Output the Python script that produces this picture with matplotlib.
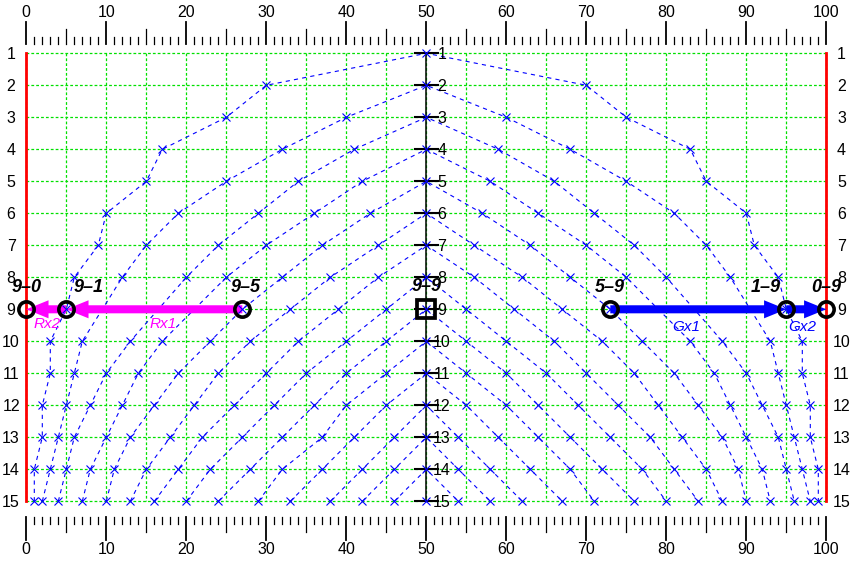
import matplotlib
matplotlib.use("Agg")
import matplotlib.pyplot as plt
from matplotlib.patches import FancyArrowPatch, ArrowStyle

plt.rcParams['font.family'] = ['Liberation Sans', 'DejaVu Sans']
plt.rcParams['lines.scale_dashes'] = False

rows = list(range(1, 16))
x_ticks = list(range(0, 101, 10))

# x of every curve on the left side, rows apex+1 .. 15 (None = under the arrow)
left_x = [
    [30, 25, 17, 15, 10, 9, 6, 5, 3, 3, 2, 2, 1, 1],
    [40, 32, 25, 19, 15, 12, None, 7, 6, 5, 4, 3, 2],
    [41, 34, 29, 24, 20, None, 13, 10, 8, 6, 5, 4],
    [42, 36, 30, 25, None, 17, 14, 12, 10, 8, 7],
    [43, 37, 32, 27, 23, 19, 16, 13, 11, 10],
    [44, 38, 33, 28, 24, 21, 18, 15, 13],
    [44, 39, 34, 30, 26, 22, 19, 16],
    [45, 40, 35, 31, 27, 23, 20],
    [45, 40, 36, 32, 28, 24],
    [45, 40, 37, 32, 29],
    [45, 41, 37, 33],
    [46, 42, 38],
    [46, 42],
    [46],
]
# same curves on the right side
right_x = [
    [70, 75, 83, 85, 90, 91, 94, 95, 97, 97, 98, 98, 99, 99],
    [60, 68, 75, 81, 85, 88, None, 93, 94, 95, 96, 97, 98],
    [59, 66, 71, 76, 80, None, 87, 90, 92, 94, 95, 96],
    [58, 64, 70, 75, None, 83, 86, 88, 90, 92, 93],
    [57, 63, 68, 73, 77, 81, 84, 87, 89, 90],
    [56, 62, 67, 72, 76, 79, 82, 85, 87],
    [56, 61, 66, 70, 74, 78, 81, 84],
    [55, 60, 65, 69, 73, 77, 80],
    [55, 60, 64, 68, 72, 76],
    [55, 60, 64, 68, 71],
    [55, 59, 63, 67],
    [54, 58, 62],
    [54, 58],
    [54],
]

score_x = [0, 5, 27, 73, 95, 100]
score_labels = ['9\u20130', '9\u20131', '9\u20135', '5\u20139', '1\u20139', '0\u20139']
score_row = 9
tie_label = '9\u20139'

arrows_r = [(27, 5, 'Rx1'), (5, 0, 'Rx2')]
arrows_g = [(73, 95, 'Gx1'), (95, 100, 'Gx2')]

fig = plt.figure(figsize=(8.53, 5.63), dpi=100)
ax = fig.add_axes([0, 0, 1, 1])
ax.set_xlim(-26.3 / 8.0, (853 - 26.3) / 8.0)
ax.set_ylim(1 + (563 - 53.3) / 32.0, 1 - 53.3 / 32.0)
ax.axis('off')

green = '#00e000'
# grid
for gx in range(0, 101, 5):
    ax.plot([gx, gx], [1, 15], color=green, lw=0.9, ls=(0, (2, 1.5)), zorder=1)
for r in rows:
    ax.plot([0, 100], [r, r], color=green, lw=0.9, ls=(0, (2, 1.5)), zorder=1)

# red borders
ax.plot([0, 0], [1, 15], color='red', lw=2, zorder=2)
ax.plot([100, 100], [1, 15], color='red', lw=2, zorder=2)

# curves
for i in range(len(left_x)):
    apex = i + 1
    lrows = list(range(apex + 1, 16))
    xs, ys = [], []
    for x, r in reversed(list(zip(left_x[i], lrows))):
        if x is not None:
            xs.append(x)
            ys.append(r)
    xs.append(50)
    ys.append(apex)
    for x, r in zip(right_x[i], lrows):
        if x is not None:
            xs.append(x)
            ys.append(r)
    ax.plot(xs, ys, color='blue', lw=0.8, ls=(0, (3, 3)), zorder=3)
    ax.plot(xs, ys, ls='none', marker='x', ms=6, mew=0.8, color='blue', zorder=7)
ax.plot([50], [15], ls='none', marker='x', ms=6, mew=0.8, color='blue', zorder=7)

# center axis
ax.plot([50, 50], [1, 15], color='black', lw=1.1, zorder=4)
for r in rows:
    ax.plot([48.55, 51.45], [r, r], color='black', lw=1.5, zorder=4)
    ax.text(51.95, r + 0.05, str(r), ha='center', va='center', fontsize=11.5, zorder=4)
    ax.text(-1.9, r + 0.05, str(r), ha='center', va='center', fontsize=11.5)
    ax.text(101.9, r + 0.05, str(r), ha='center', va='center', fontsize=11.5)

# top and bottom scales
for t in range(0, 101):
    if t % 10 == 0:
        top, bot, lw = 0.01, 16.21, 1.3
    elif t % 5 == 0:
        top, bot, lw = 0.25, 15.95, 0.9
    else:
        top, bot, lw = 0.48, 15.71, 0.9
    ax.plot([t, t], [0.71, top], color='black', lw=lw)
    ax.plot([t, t], [15.48, bot], color='black', lw=lw)
for t in x_ticks:
    ax.text(t, -0.28, str(t), ha='center', va='center', fontsize=11.5)
    ax.text(t, 16.5, str(t), ha='center', va='center', fontsize=11.5)

# arrows
def draw_arrow(x0, x1, color):
    ar = FancyArrowPatch((x0, score_row), (x1, score_row),
                         arrowstyle=ArrowStyle.Simple(head_length=0.8, head_width=0.65,
                                                      tail_width=0.29),
                         mutation_scale=20, color=color, lw=0, shrinkA=0, shrinkB=0,
                         zorder=5)
    ax.add_patch(ar)

label_dx = {'Rx1': 1.1, 'Rx2': 0.1, 'Gx1': -1.5, 'Gx2': -0.5}
for x0, x1, name in arrows_r:
    draw_arrow(x0, x1, 'magenta')
    ax.text((x0 + x1) / 2 + label_dx[name], 9.47, name, color='magenta',
            style='italic', ha='center', va='center', fontsize=11, zorder=8)
for x0, x1, name in arrows_g:
    draw_arrow(x0, x1, 'blue')
    ax.text((x0 + x1) / 2 + label_dx[name], 9.55, name, color='blue',
            style='italic', ha='center', va='center', fontsize=11, zorder=8)

# score markers
ax.plot(score_x, [score_row] * len(score_x), ls='none', marker='o', ms=11,
        mfc='none', mec='black', mew=2.6, zorder=6)
ax.plot([50], [score_row], ls='none', marker='s', ms=12.5, mfc='none', mec='black',
        mew=2.7, zorder=6)
score_dx = [0, 2.75, 0.4, 0, -2.6, 0]
for x, lab, dx in zip(score_x, score_labels, score_dx):
    ax.text(x + dx, 8.31, lab, ha='center', va='center', fontsize=13,
            fontweight='bold', style='italic', zorder=8)
ax.text(50, 8.28, tie_label, ha='center', va='center', fontsize=13,
        fontweight='bold', style='italic', zorder=8)

fig.savefig('out.png', dpi=100)
